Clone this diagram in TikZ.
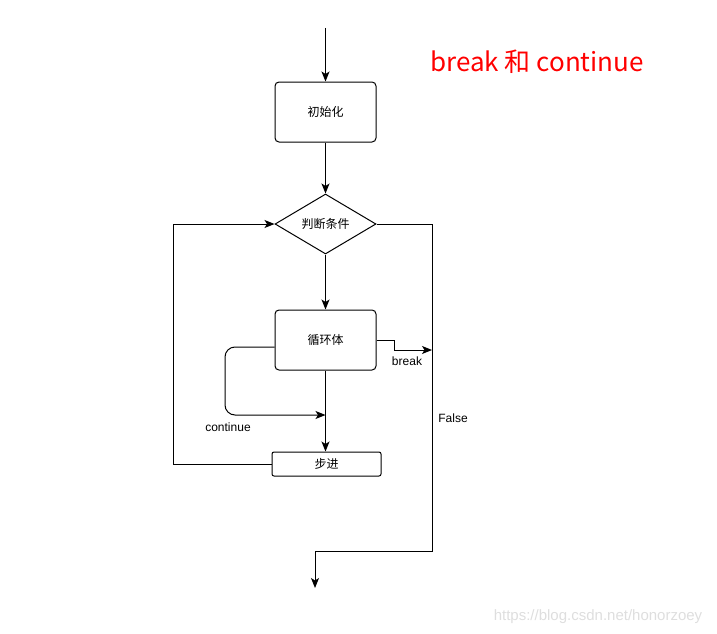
\documentclass[tikz,border=0pt]{standalone}
\usepackage{fontspec}
\setmainfont{Liberation Sans}
\newfontfamily\cjk{Noto Sans CJK SC}
\usetikzlibrary{shapes.geometric,arrows.meta}
\begin{document}
\begin{tikzpicture}[x=1pt,y=-1pt,
  line width=1pt,
  box/.style={draw,rounded corners=4pt,minimum width=101pt,minimum height=60pt,inner sep=0pt,font=\cjk\fontsize{12}{14}\selectfont},
  stepbox/.style={draw,rounded corners=2pt,minimum width=109pt,minimum height=24pt,inner sep=0pt,font=\cjk\fontsize{12}{14}\selectfont},
  decision/.style={draw,shape=diamond,aspect=1.68,minimum width=101pt,minimum height=60pt,inner sep=0pt,font=\cjk\fontsize{12}{14}\selectfont},
  arr/.style={-{Stealth[length=10pt,width=8pt,inset=2.5pt]}},
  lbl/.style={font=\fontsize{12}{14}\selectfont,inner sep=0pt}
]
\useasboundingbox (0,0) rectangle (717,634);

\node[box] (init) at (325.5,112) {初始化};
\node[decision] (cond) at (325.5,224) {判断条件};
\node[box] (body) at (325.5,340) {循环体};
\node[stepbox] (step) at (326.5,464) {步进};

\coordinate (top) at (325.5,28);
\coordinate (brk) at (432,350);
\coordinate (cont) at (325.5,415);
\coordinate (bot) at (315,588);

\draw[arr] (top) -- (init);
\draw[arr] (init) -- (cond);
\draw[arr] (cond) -- (body);
\draw[arr] (body) -- (body |- step.north);
\draw[arr] (body.east) -- ++(18,0) |- (brk);
\draw[arr,rounded corners=10pt] ([yshift=-7pt]body.west) -- (225,347) -- (225,415) -- (cont);
\draw[arr] (step.west) -- (173,464) |- (cond.west);
\draw[arr] (cond.east) -| (432,551) -| (bot);

\node[lbl] (lbreak) at (407,361) {break};
\node[lbl] (lcont) at (228,427) {continue};
\node[lbl] (lfalse) at (453,418) {False};

\node[font=\cjk\fontsize{26}{30}\selectfont,text=red,inner sep=0pt] (title) at (537,62) {break 和 continue};
\node[font=\fontsize{15}{17}\selectfont,text=black!13,inner sep=0pt] (wm) at (598,617) {https://blog.csdn.net/honorzoey};
\end{tikzpicture}
\end{document}
